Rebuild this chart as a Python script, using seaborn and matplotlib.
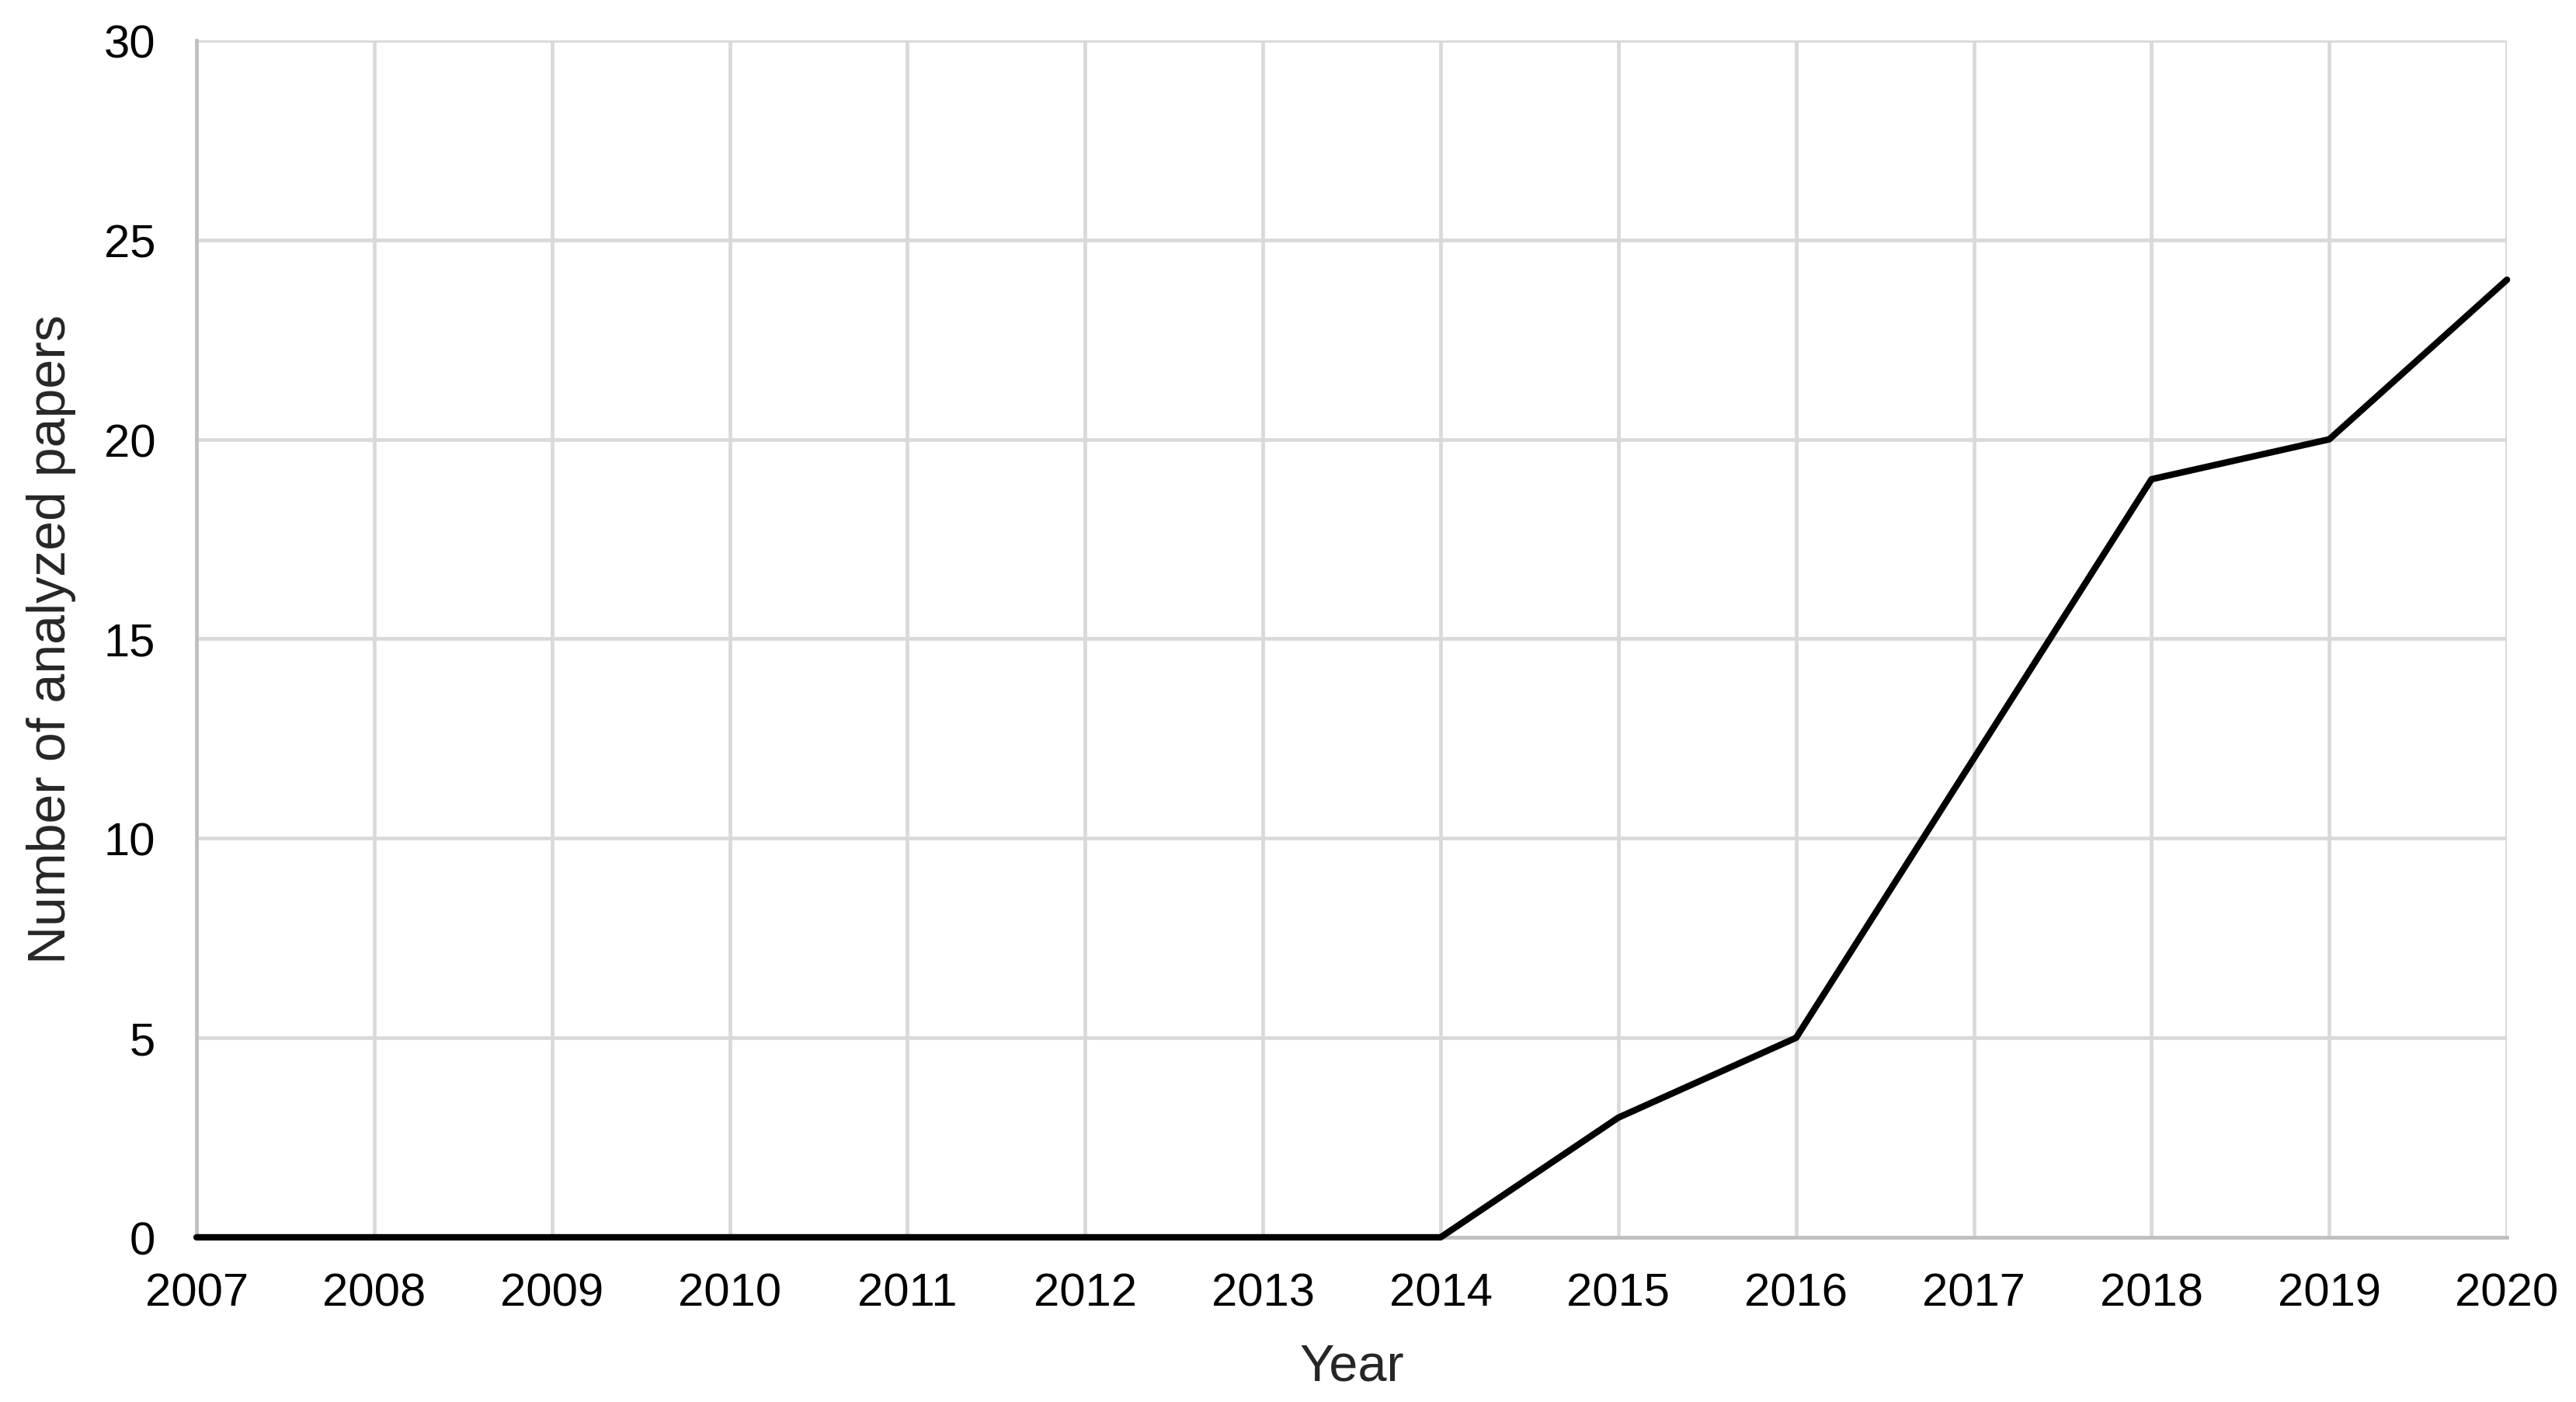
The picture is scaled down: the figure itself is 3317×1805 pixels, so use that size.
import matplotlib
matplotlib.use("Agg")
import matplotlib.pyplot as plt
import seaborn as sns
import pandas as pd

# papers per year
years = [2007, 2008, 2009, 2010, 2011, 2012, 2013, 2014, 2015, 2016, 2017, 2018, 2019, 2020]
papers = [0, 0, 0, 0, 0, 0, 0, 0, 3, 5, 12, 19, 20, 24]
y_ticks = [0, 5, 10, 15, 20, 25, 30]

df = pd.DataFrame({"Year": years, "Papers": papers})

sns.set_style("white")
plt.rcParams["font.family"] = ["Liberation Sans", "DejaVu Sans"]

fig = plt.figure(figsize=(16.585, 9.03), dpi=200)
ax = fig.add_axes([0.0763, 0.1174, 0.8969, 0.8533])

sns.lineplot(data=df, x="Year", y="Papers", ax=ax, color="black", linewidth=3.0,
             clip_on=False, zorder=5)

ax.set_xlim(2007, 2020)
ax.set_ylim(0, 30)
ax.set_xticks(years)
ax.set_yticks(y_ticks)
ax.grid(True, color="#d9d9d9", linewidth=1.7)
ax.set_axisbelow(True)

for side in ["top", "right"]:
    ax.spines[side].set_visible(False)
for side in ["left", "bottom"]:
    ax.spines[side].set_color("#bfbfbf")
    ax.spines[side].set_linewidth(1.7)

ax.tick_params(axis="both", length=0, labelsize=21.5, colors="black")
ax.tick_params(axis="y", pad=19)
ax.tick_params(axis="x", pad=16)

ax.set_xlabel("Year", fontsize=24, labelpad=13)
ax.set_ylabel("Number of analyzed papers", fontsize=24.5, labelpad=13)

fig.savefig("out.png", dpi=200, facecolor="white")
plt.close(fig)
